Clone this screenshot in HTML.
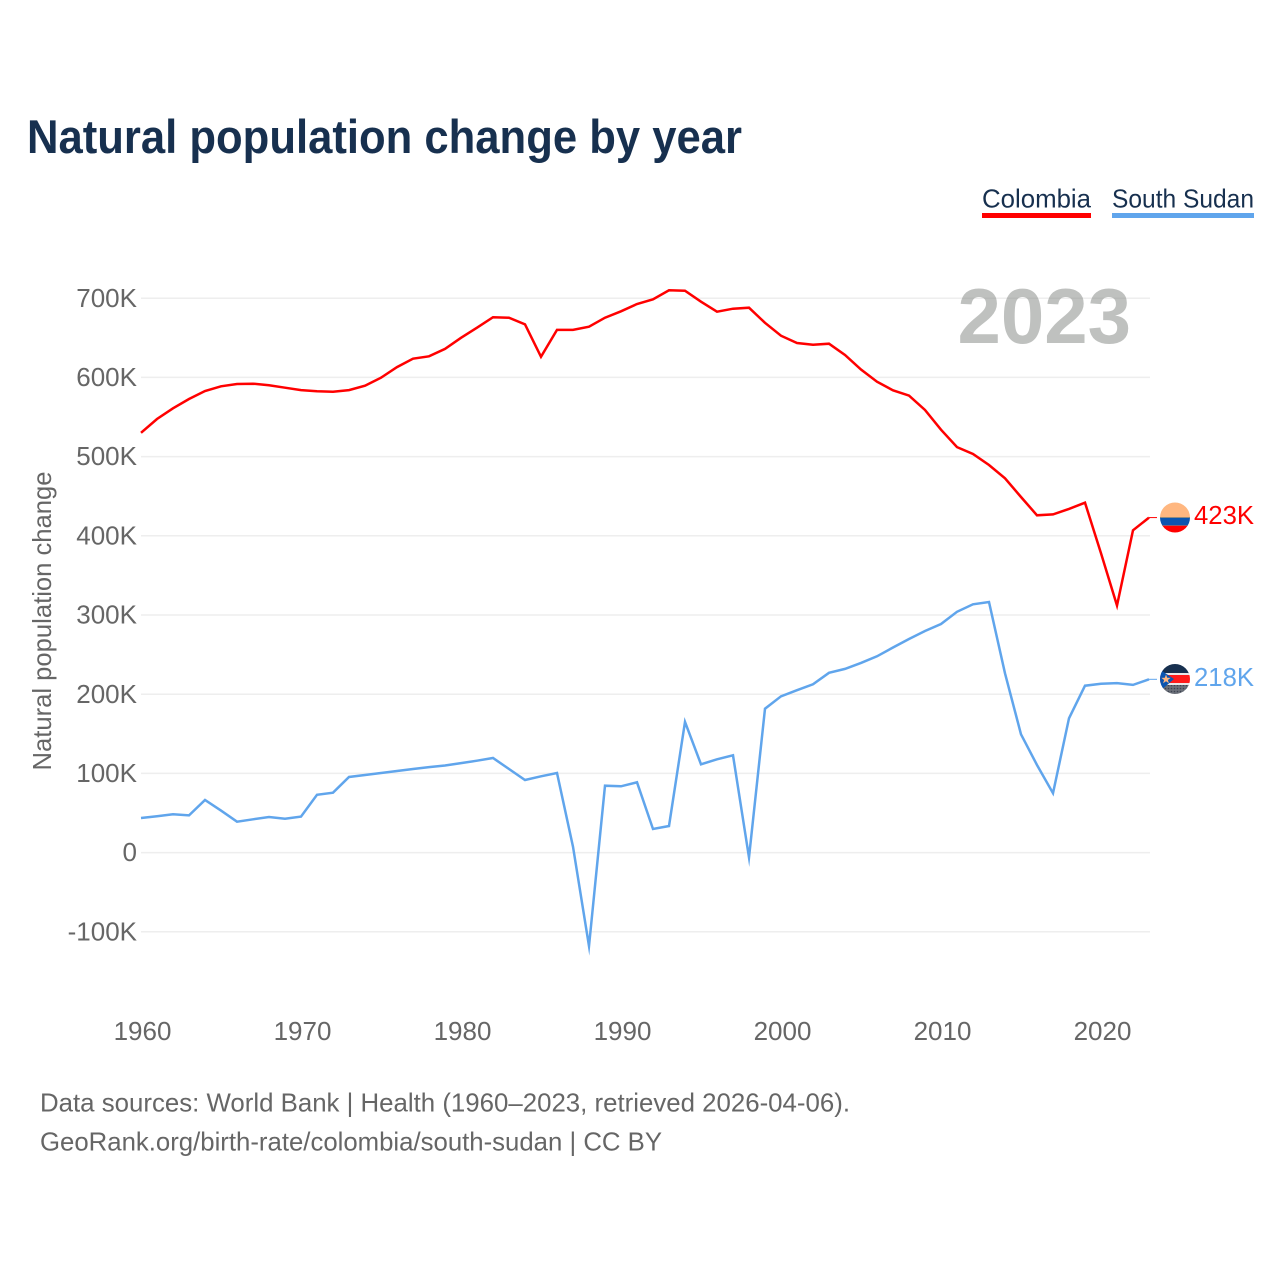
<!DOCTYPE html>
<html lang="en">
<head>
<meta charset="utf-8">
<title>Natural population change by year</title>
<style>
html,body{margin:0;padding:0;background:#fff;width:1280px;height:1280px;overflow:hidden}
svg{display:block}
text{font-family:"Liberation Sans",sans-serif}
</style>
</head>
<body>
<svg id="chart" width="1280" height="1280" viewBox="0 0 1280 1280" xmlns="http://www.w3.org/2000/svg">
  <defs>
    <clipPath id="clip-co"><circle cx="1175" cy="517.5" r="15"/></clipPath>
    <clipPath id="clip-ss"><circle cx="1175" cy="679" r="15"/></clipPath>
    <pattern id="dots" width="3" height="3" patternUnits="userSpaceOnUse">
      <rect width="3" height="3" fill="#6a6f78"/>
      <circle cx="1.5" cy="1.5" r="0.8" fill="#3c4250"/>
    </pattern>
  </defs>
  <text x="27" y="153" font-size="47" font-weight="700" fill="#17304f" textLength="715" lengthAdjust="spacingAndGlyphs">Natural population change by year</text>

  <g>
    <g>
      <text x="982" y="207.5" font-size="26" fill="#17304f" textLength="109" lengthAdjust="spacingAndGlyphs">Colombia</text>
      <rect x="982" y="213" width="109" height="5" fill="#ff0000"/>
    </g>
    <g>
      <text x="1112" y="207.5" font-size="26" fill="#17304f" textLength="142" lengthAdjust="spacingAndGlyphs">South Sudan</text>
      <rect x="1112" y="213" width="142" height="5" fill="#60a5ec"/>
    </g>
  </g>

  <g id="grid"></g>
  <text x="1131" y="343" font-size="78" font-weight="700" fill="#808380" fill-opacity="0.5" text-anchor="end">2023</text>
  <g id="y-ticks"></g>
  <g id="x-ticks"></g>
  <text transform="translate(51,621) rotate(-90)" font-size="26" fill="#666666" text-anchor="middle" textLength="299" lengthAdjust="spacingAndGlyphs">Natural population change</text>

  <g id="series"></g>

  <g clip-path="url(#clip-co)">
    <rect x="1160" y="502" width="30" height="16" fill="#ffb780"/>
    <rect x="1160" y="517" width="30" height="9" fill="#0b55b0"/>
    <rect x="1160" y="517" width="30" height="1" fill="#8f8a80"/>
    <rect x="1160" y="525" width="30" height="1" fill="#8a5a70"/>
    <rect x="1160" y="526" width="30" height="8" fill="#ff0000"/>
  </g>
  <g clip-path="url(#clip-ss)">
    <rect x="1160" y="664" width="30" height="10" fill="#17304f"/>
    <rect x="1160" y="673" width="30" height="2" fill="#e8e8e8"/>
    <rect x="1160" y="675" width="30" height="8" fill="#ff1a1a"/>
    <rect x="1160" y="683" width="30" height="2" fill="#e8e8e8"/>
    <rect x="1160" y="685" width="30" height="9" fill="url(#dots)"/>
    <polygon points="1159,669 1174,679 1159,692" fill="#0b55b0"/>
    <polygon points="1166,674.5 1167.2,677.8 1170.6,677.9 1167.9,680 1168.9,683.3 1166,681.3 1163.1,683.3 1164.1,680 1161.4,677.9 1164.8,677.8" fill="#ffb780"/>
  </g>

  <text id="label-co" x="1194" y="524" font-size="26" fill="#ff0000" textLength="60" lengthAdjust="spacingAndGlyphs"></text>
  <text id="label-ss" x="1194" y="686" font-size="26" fill="#60a5ec" textLength="60" lengthAdjust="spacingAndGlyphs"></text>

  <text x="40" y="1111.5" font-size="26" fill="#666666" textLength="810" lengthAdjust="spacingAndGlyphs">Data sources: World Bank | Health (1960–2023, retrieved 2026-04-06).</text>
  <text x="40" y="1150.5" font-size="26" fill="#666666" textLength="622" lengthAdjust="spacingAndGlyphs">GeoRank.org/birth-rate/colombia/south-sudan | CC BY</text>
</svg>

<script>
const years = [1960,1961,1962,1963,1964,1965,1966,1967,1968,1969,1970,1971,1972,1973,1974,1975,1976,1977,1978,1979,1980,1981,1982,1983,1984,1985,1986,1987,1988,1989,1990,1991,1992,1993,1994,1995,1996,1997,1998,1999,2000,2001,2002,2003,2004,2005,2006,2007,2008,2009,2010,2011,2012,2013,2014,2015,2016,2017,2018,2019,2020,2021,2022,2023];
const colombia = [530000,547500,561000,572700,582800,588800,591700,592000,590000,587000,584000,582400,582000,584000,589500,599600,613000,623600,626600,636000,650000,662800,676000,675400,667000,626000,660000,660000,664000,675400,683500,692700,698600,710000,709500,695600,683000,686700,688000,669000,652700,643400,641300,642600,628300,610000,594600,583700,577000,558800,534000,512000,503300,489400,472600,449000,425900,427000,434000,441800,378000,312000,407000,423000];
const southSudan = [43700,45800,48300,47000,66400,53000,39000,42000,45000,42800,45400,73000,75600,95500,98000,100500,103000,105500,108000,110000,113000,116000,119400,105500,91700,96300,100500,7500,-118000,84500,83700,88800,29800,33600,165000,111500,117800,122800,-6000,181700,197300,205000,212500,227000,232000,239500,247800,259000,269700,279800,288600,304000,313500,316400,226400,149400,110600,75000,169600,210700,213300,214000,211700,218800];
const yTickValues = [700000,600000,500000,400000,300000,200000,100000,0,-100000];
const yTickLabels = ["700K","600K","500K","400K","300K","200K","100K","0","-100K"];
const xTickValues = [1960,1970,1980,1990,2000,2010,2020];
const xTickLabels = ["1960","1970","1980","1990","2000","2010","2020"];
const endLabelColombia = "423K";
const endLabelSouthSudan = "218K";

const NS = "http://www.w3.org/2000/svg";
const xScale = function (year) { return 141 + (year - 1960) * 16; };
const yScale = function (v) { return 852.6 - v * 0.000792; };

const gridGroup = document.getElementById("grid");
const yGroup = document.getElementById("y-ticks");
const xGroup = document.getElementById("x-ticks");
const seriesGroup = document.getElementById("series");

yTickValues.forEach(function (v, i) {
  const line = document.createElementNS(NS, "line");
  
  
  line.setAttribute("x1", 141);
  line.setAttribute("x2", 1150);
  line.setAttribute("y1", yScale(v));
  line.setAttribute("y2", yScale(v));
  line.setAttribute("stroke", "#eeeeee");
  line.setAttribute("stroke-width", "1.5");
  gridGroup.appendChild(line);

  const t = document.createElementNS(NS, "text");
  
  
  t.setAttribute("x", 137);
  t.setAttribute("y", yScale(v) + 8.6);
  t.setAttribute("text-anchor", "end");
  t.setAttribute("font-size", "26");
  t.setAttribute("fill", "#666666");
  t.textContent = yTickLabels[i];
  yGroup.appendChild(t);
});

xTickValues.forEach(function (year, i) {
  const t = document.createElementNS(NS, "text");
  
  
  t.setAttribute("x", xScale(year) + 1.5);
  t.setAttribute("y", 1040);
  t.setAttribute("text-anchor", "middle");
  t.setAttribute("font-size", "26");
  t.setAttribute("fill", "#666666");
  t.textContent = xTickLabels[i];
  xGroup.appendChild(t);
});

function linePath(values) {
  return values.map(function (v, i) {
    return (i ? "L" : "M") + xScale(years[i]).toFixed(1) + " " + yScale(v).toFixed(1);
  }).join(" ");
}

const colombiaLine = document.createElementNS(NS, "path");


colombiaLine.setAttribute("d", linePath(colombia));
colombiaLine.setAttribute("fill", "none");
colombiaLine.setAttribute("stroke", "#ff0000");
colombiaLine.setAttribute("stroke-width", "2.5");
colombiaLine.setAttribute("stroke-miterlimit", "10");
seriesGroup.appendChild(colombiaLine);

const southSudanLine = document.createElementNS(NS, "path");


southSudanLine.setAttribute("d", linePath(southSudan));
southSudanLine.setAttribute("fill", "none");
southSudanLine.setAttribute("stroke", "#60a5ec");
southSudanLine.setAttribute("stroke-width", "2.5");
southSudanLine.setAttribute("stroke-miterlimit", "10");
seriesGroup.appendChild(southSudanLine);

const colombiaLeader = document.createElementNS(NS, "line");


colombiaLeader.setAttribute("x1", xScale(2023));
colombiaLeader.setAttribute("x2", 1157);
colombiaLeader.setAttribute("y1", yScale(colombia[colombia.length - 1]));
colombiaLeader.setAttribute("y2", yScale(colombia[colombia.length - 1]));
colombiaLeader.setAttribute("stroke", "#ff0000");
colombiaLeader.setAttribute("stroke-width", "1");
seriesGroup.appendChild(colombiaLeader);

const southSudanLeader = document.createElementNS(NS, "line");


southSudanLeader.setAttribute("x1", xScale(2023));
southSudanLeader.setAttribute("x2", 1157);
southSudanLeader.setAttribute("y1", yScale(southSudan[southSudan.length - 1]));
southSudanLeader.setAttribute("y2", yScale(southSudan[southSudan.length - 1]));
southSudanLeader.setAttribute("stroke", "#60a5ec");
southSudanLeader.setAttribute("stroke-width", "1");
seriesGroup.appendChild(southSudanLeader);

document.getElementById("label-co").textContent = endLabelColombia;
document.getElementById("label-ss").textContent = endLabelSouthSudan;
</script>
</body>
</html>
